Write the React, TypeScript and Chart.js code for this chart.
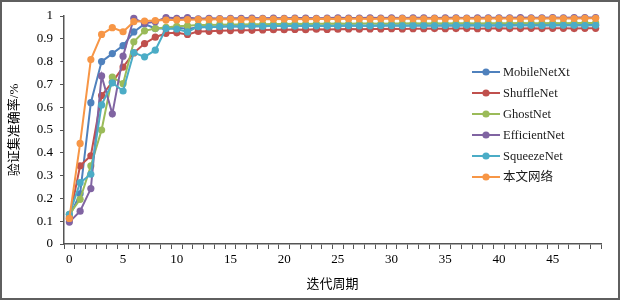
import React, { useEffect, useRef } from "react";
import { Chart, registerables } from "chart.js";

Chart.register(...registerables);

const epochs = [
  "0","1","2","3","4","5","6","7","8","9",
  "10","11","12","13","14","15","16","17","18","19",
  "20","21","22","23","24","25","26","27","28","29",
  "30","31","32","33","34","35","36","37","38","39",
  "40","41","42","43","44","45","46","47","48","49",
];

const seriesNames = ["MobileNetXt", "ShuffleNet", "GhostNet", "EfficientNet", "SqueezeNet", "本文网络"];

const mobileNetXt = [
  0.12,0.22,0.62,0.80,0.835,0.87,0.93,0.965,0.945,0.945,
  0.948,0.944,0.95,0.952,0.953,0.955,0.954,0.956,0.955,0.957,
  0.956,0.957,0.958,0.957,0.958,0.957,0.958,0.958,0.957,0.958,
  0.959,0.958,0.958,0.959,0.958,0.959,0.958,0.959,0.959,0.958,
  0.959,0.96,0.959,0.959,0.96,0.959,0.96,0.959,0.96,0.96,
];

const shuffleNet = [
  0.11,0.343,0.387,0.651,0.71,0.776,0.838,0.879,0.907,0.924,
  0.926,0.919,0.932,0.933,0.935,0.936,0.938,0.937,0.939,0.94,
  0.94,0.941,0.94,0.942,0.941,0.942,0.943,0.942,0.943,0.943,
  0.944,0.943,0.944,0.944,0.945,0.944,0.945,0.945,0.944,0.945,
  0.946,0.945,0.945,0.946,0.945,0.946,0.946,0.945,0.946,0.946,
];

const ghostNet = [
  0.13,0.196,0.343,0.50,0.732,0.703,0.887,0.935,0.945,0.95,
  0.955,0.957,0.96,0.961,0.962,0.963,0.963,0.964,0.964,0.965,
  0.965,0.966,0.965,0.966,0.966,0.967,0.966,0.967,0.967,0.966,
  0.967,0.967,0.968,0.967,0.968,0.967,0.968,0.968,0.967,0.968,
  0.968,0.968,0.969,0.968,0.968,0.969,0.968,0.969,0.969,0.969,
];

const efficientNet = [
  0.096,0.144,0.243,0.737,0.571,0.824,0.99,0.968,0.975,0.993,
  0.99,0.993,0.988,0.99,0.989,0.99,0.99,0.991,0.99,0.991,
  0.99,0.991,0.991,0.99,0.991,0.992,0.991,0.991,0.992,0.991,
  0.992,0.991,0.992,0.992,0.991,0.992,0.992,0.991,0.992,0.992,
  0.992,0.992,0.993,0.992,0.992,0.993,0.992,0.993,0.993,0.993,
];

const squeezeNet = [
  0.13,0.269,0.306,0.61,0.707,0.671,0.84,0.821,0.85,0.945,
  0.943,0.93,0.953,0.952,0.954,0.955,0.955,0.956,0.955,0.956,
  0.957,0.956,0.957,0.957,0.956,0.957,0.958,0.957,0.957,0.958,
  0.958,0.957,0.958,0.958,0.957,0.958,0.958,0.959,0.958,0.958,
  0.959,0.958,0.959,0.959,0.958,0.959,0.959,0.959,0.958,0.959,
];

const ours = [
  0.112,0.441,0.809,0.919,0.949,0.931,0.975,0.978,0.98,0.982,
  0.983,0.984,0.985,0.985,0.986,0.986,0.985,0.986,0.987,0.986,
  0.987,0.987,0.986,0.987,0.988,0.987,0.988,0.988,0.987,0.988,
  0.988,0.989,0.988,0.988,0.989,0.988,0.989,0.989,0.988,0.989,
  0.989,0.989,0.988,0.989,0.989,0.99,0.989,0.989,0.99,0.99,
];

const seriesValues = [mobileNetXt, shuffleNet, ghostNet, efficientNet, squeezeNet, ours];
const seriesColors = ["#4F81BD", "#C0504D", "#9BBB59", "#8064A2", "#4BACC6", "#F79646"];

const FONT = "'Liberation Serif', 'Times New Roman', 'Noto Sans CJK SC', serif";

const legendPlugin = {
  id: "insideLegend",
  afterDraw(chart: any) {
    const ctx = chart.ctx as CanvasRenderingContext2D;
    const datasets = chart.data.datasets;
    const x0 = 472;
    const y0 = 72;
    const gap = 21;
    ctx.save();
    ctx.font = `12.5px ${FONT}`;
    ctx.textBaseline = "middle";
    ctx.textAlign = "left";
    datasets.forEach((ds: any, i: number) => {
      const y = y0 + i * gap;
      ctx.strokeStyle = ds.borderColor;
      ctx.lineWidth = 2;
      ctx.beginPath();
      ctx.moveTo(x0, y);
      ctx.lineTo(x0 + 28, y);
      ctx.stroke();
      ctx.fillStyle = ds.borderColor;
      ctx.beginPath();
      ctx.arc(x0 + 14, y, 3.6, 0, Math.PI * 2);
      ctx.fill();
      ctx.fillStyle = "#1a1a1a";
      ctx.fillText(ds.label, x0 + 31, y + 0.5);
    });
    ctx.restore();
  },
};

export default function App() {
  const canvasRef = useRef<HTMLCanvasElement | null>(null);

  useEffect(() => {
    if (!canvasRef.current) return;
    const chart = new Chart(canvasRef.current, {
      type: "line",
      data: {
        labels: epochs,
        datasets: seriesNames.map((name, i) => ({
          label: name,
          data: seriesValues[i],
          borderColor: seriesColors[i],
          backgroundColor: seriesColors[i],
          pointBackgroundColor: seriesColors[i],
          pointBorderColor: seriesColors[i],
          borderWidth: 2,
          pointRadius: 3.6,
          pointBorderWidth: 0,
          tension: 0,
          fill: false,
          clip: false as any,
          order: seriesNames.length - i,
        })),
      },
      options: {
        responsive: false,
        animation: false,
        events: [],
        layout: { padding: { left: 0, right: 19, top: 16, bottom: 0 } },
        plugins: {
          legend: { display: false },
          tooltip: { enabled: false },
        },
        scales: {
          x: {
            type: "category",
            offset: true,
            afterFit: (scale: any) => {
              scale.height = 56;
            },
            grid: {
              display: true,
              offset: true,
              drawOnChartArea: false,
              drawTicks: true,
              tickLength: 5,
              color: "#555",
              lineWidth: 1,
            },
            border: { display: true, color: "#555", width: 1.5 },
            ticks: {
              autoSkip: false,
              maxRotation: 0,
              padding: 3,
              color: "#000",
              font: { family: FONT, size: 13 },
              callback: (_v: any, idx: number) => (idx % 5 === 0 ? epochs[idx] : ""),
            },
            title: {
              display: true,
              text: "迭代周期",
              color: "#000",
              font: { family: FONT, size: 13 },
              padding: { top: 0, bottom: 8 },
            },
          },
          y: {
            min: 0,
            max: 1,
            afterFit: (scale: any) => {
              scale.width = 64;
            },
            grid: {
              display: true,
              drawOnChartArea: false,
              drawTicks: true,
              tickLength: 4,
              color: "#555",
              lineWidth: 1,
            },
            border: { display: true, color: "#555", width: 1.5 },
            ticks: {
              stepSize: 0.1,
              padding: 7,
              color: "#000",
              font: { family: FONT, size: 13 },
              callback: (v: any) => String(Number(Number(v).toFixed(1))),
            },
            title: {
              display: true,
              text: "验证集准确率/%",
              color: "#000",
              font: { family: FONT, size: 13 },
              padding: { top: 7, bottom: 0 },
            },
          },
        },
      },
      plugins: [legendPlugin],
    });
    return () => chart.destroy();
  }, []);

  return (
    <div
      style={{
        position: "fixed",
        left: 0,
        top: 0,
        width: 620,
        height: 300,
        background: "#fff",
      }}
    >
      <canvas ref={canvasRef} width={620} height={300} style={{ display: "block" }} />
      <div
        style={{
          position: "absolute",
          left: 0,
          top: 0,
          width: 620,
          height: 300,
          boxSizing: "border-box",
          border: "2px solid #5f5f5f",
          pointerEvents: "none",
        }}
      />
    </div>
  );
}
